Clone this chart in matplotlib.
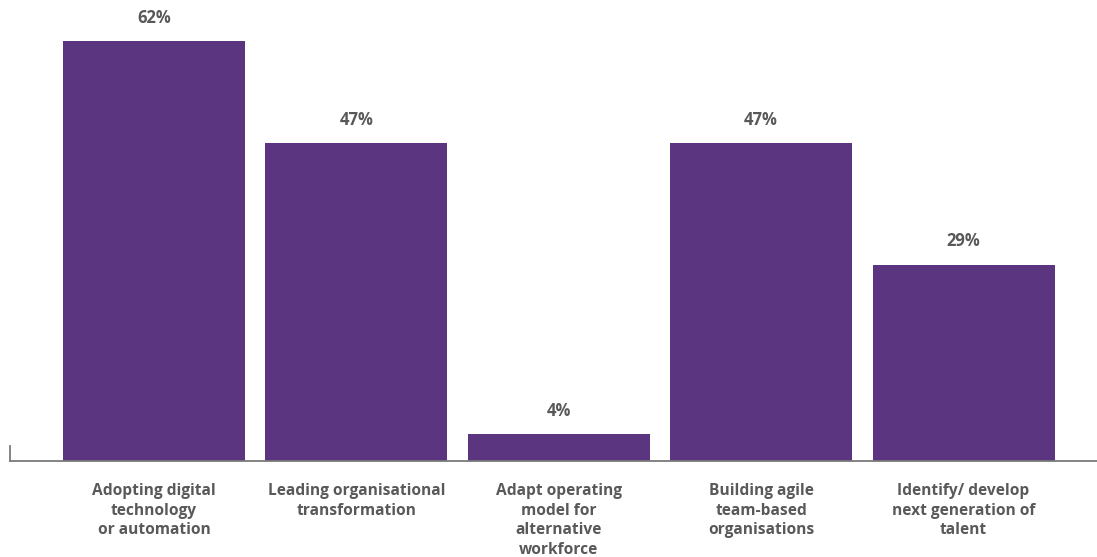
import matplotlib
matplotlib.use("Agg")
import matplotlib.pyplot as plt

categories = [
    "Adopting digital\ntechnology\nor automation",
    "Leading organisational\ntransformation",
    "Adapt operating\nmodel for\nalternative\nworkforce",
    "Building agile\nteam-based\norganisations",
    "Identify/ develop\nnext generation of\ntalent",
]
values = [62, 47, 4, 47, 29]
value_labels = ["62%", "47%", "4%", "47%", "29%"]

plt.rcParams['font.family'] = ['Open Sans', 'DejaVu Sans']
text_color = "#595959"
bar_color = "#5C3580"

fig = plt.figure(figsize=(10.97, 5.57), dpi=100)
ax = fig.add_axes([10 / 1097, 96 / 557, 1 - 10 / 1097, 461 / 557])

x = list(range(len(values)))
bars = ax.bar(x, values, width=0.9, color=bar_color, zorder=2)

for xi, v, lab in zip(x, values, value_labels):
    ax.annotate(lab, (xi, v), xytext=(0, 13), textcoords="offset points",
                ha="center", va="baseline", fontsize=12, fontweight="bold",
                color=text_color)

ax.set_xlim(-0.711, 4.659)
ax.set_ylim(0, 68.05)
ax.set_xticks(x)
ax.set_xticklabels(categories, fontsize=11.2, fontweight="bold",
                   color=text_color, linespacing=1.3)
ax.tick_params(axis="x", length=0, pad=16)
ax.set_yticks([])
for s in ["top", "right"]:
    ax.spines[s].set_visible(False)
ax.spines["bottom"].set_color("#7a7a7a")
ax.spines["bottom"].set_linewidth(1.3)
ax.spines["bottom"].set_zorder(3)
ax.spines["left"].set_color("#7a7a7a")
ax.spines["left"].set_linewidth(1.3)
ax.spines["left"].set_bounds(0, 2.2)

fig.savefig("out.png", dpi=100)
